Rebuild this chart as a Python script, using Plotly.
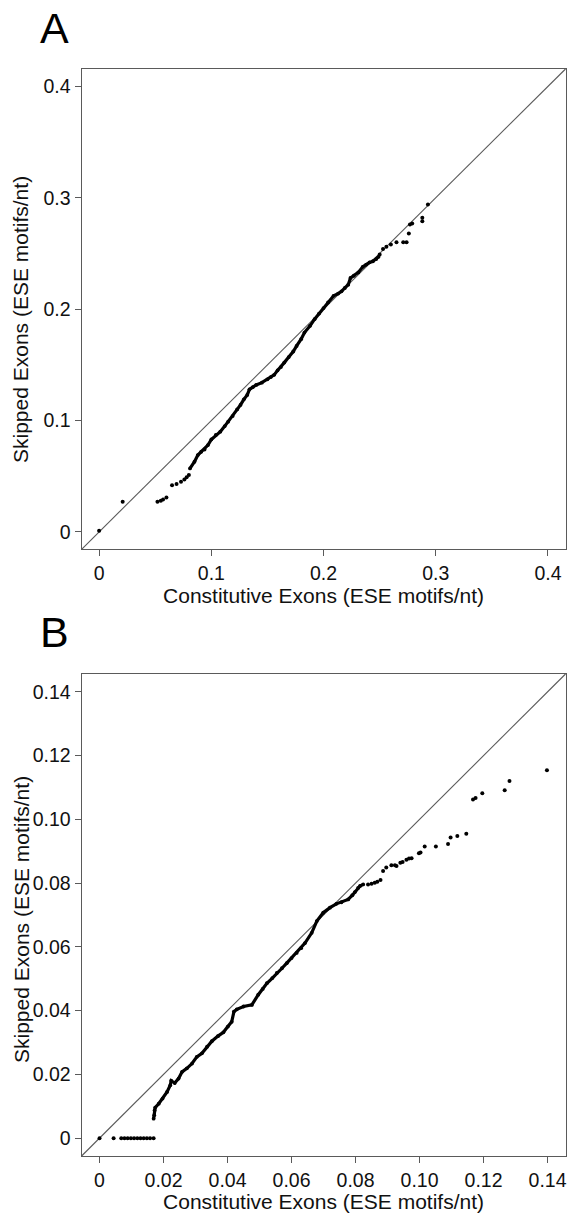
import plotly.graph_objects as go

# ---------------- Panel A data (ESE motifs/nt) ----------------
a_const_dense = [0.081, 0.085, 0.088, 0.091, 0.094, 0.097, 0.100, 0.104, 0.108, 0.112, 0.115, 0.119,
                 0.123, 0.126, 0.129, 0.132, 0.134, 0.137, 0.140, 0.145, 0.150, 0.153, 0.156, 0.159,
                 0.162, 0.165, 0.169, 0.173, 0.176, 0.180, 0.183, 0.188, 0.192, 0.196, 0.200, 0.204,
                 0.209, 0.213, 0.216, 0.219, 0.222, 0.224, 0.227, 0.231, 0.235, 0.238, 0.241, 0.244,
                 0.247, 0.249]
a_skip_dense = [0.057, 0.063, 0.069, 0.072, 0.074, 0.078, 0.083, 0.087, 0.090, 0.095, 0.099, 0.104,
                0.110, 0.114, 0.119, 0.123, 0.128, 0.130, 0.132, 0.134, 0.137, 0.139, 0.141, 0.145,
                0.148, 0.152, 0.157, 0.162, 0.167, 0.173, 0.179, 0.185, 0.191, 0.196, 0.201, 0.206,
                0.212, 0.214, 0.216, 0.219, 0.222, 0.228, 0.230, 0.233, 0.238, 0.240, 0.242, 0.243,
                0.245, 0.247]
a_const_sparse = [0.000, 0.021, 0.052, 0.055, 0.057, 0.060, 0.065, 0.069, 0.073, 0.076, 0.078, 0.080,
                  0.250, 0.253, 0.256, 0.260, 0.265, 0.271, 0.274, 0.276, 0.277, 0.279, 0.288, 0.288,
                  0.293]
a_skip_sparse = [0.001, 0.027, 0.027, 0.028, 0.029, 0.031, 0.042, 0.043, 0.045, 0.047, 0.049, 0.051,
                 0.249, 0.254, 0.256, 0.258, 0.260, 0.260, 0.260, 0.268, 0.276, 0.277, 0.282, 0.279,
                 0.294]
a_ticks = [0, 0.1, 0.2, 0.3, 0.4]
a_ticktext = ["0", "0.1", "0.2", "0.3", "0.4"]
a_range = [-0.0156, 0.4156]

# ---------------- Panel B data (ESE motifs/nt) ----------------
b_const_dense = [0.0169, 0.0171, 0.0172, 0.0174, 0.0185, 0.0197, 0.0211, 0.0221, 0.0224, 0.0235,
                 0.0247, 0.0258, 0.0273, 0.0289, 0.0304, 0.0320, 0.0336, 0.0351, 0.0370, 0.0387,
                 0.0401, 0.0413, 0.0420, 0.0429, 0.0450, 0.0476, 0.0496, 0.0510, 0.0523, 0.0540,
                 0.0554, 0.0570, 0.0585, 0.0600, 0.0616, 0.0630, 0.0642, 0.0663, 0.0679, 0.0699,
                 0.0720, 0.0740, 0.0756, 0.0777, 0.0790, 0.0798, 0.0808, 0.0814, 0.0824]
b_skip_dense = [0.0061, 0.0072, 0.0087, 0.0096, 0.0108, 0.0124, 0.0145, 0.0166, 0.0180, 0.0173,
                0.0187, 0.0208, 0.0219, 0.0234, 0.0255, 0.0266, 0.0287, 0.0304, 0.0320, 0.0332,
                0.0350, 0.0365, 0.0397, 0.0404, 0.0413, 0.0418, 0.0450, 0.0468, 0.0486, 0.0502,
                0.0518, 0.0533, 0.0549, 0.0565, 0.0581, 0.0596, 0.0612, 0.0644, 0.0681, 0.0707,
                0.0723, 0.0735, 0.0740, 0.0749, 0.0762, 0.0772, 0.0785, 0.0791, 0.0796]
b_const_sparse = [0.0000, 0.0044, 0.0068, 0.0078, 0.0088, 0.0098, 0.0108, 0.0118, 0.0128, 0.0138,
                  0.0148, 0.0158, 0.0169,
                  0.0839, 0.0850, 0.0860, 0.0868, 0.0878, 0.0886, 0.0896, 0.0912, 0.0923, 0.0928,
                  0.0940, 0.0947, 0.0959, 0.0967, 0.0975, 0.0998, 0.1003, 0.1016, 0.1051, 0.1089,
                  0.1097, 0.1118, 0.1146, 0.1167, 0.1175, 0.1196, 0.1266, 0.1281, 0.1398]
b_skip_sparse = [0.0000, 0.0000, 0.0000, 0.0000, 0.0000, 0.0000, 0.0000, 0.0000, 0.0000, 0.0000,
                 0.0000, 0.0000, 0.0000,
                 0.0796, 0.0798, 0.0801, 0.0804, 0.0810, 0.0838, 0.0849, 0.0856, 0.0856, 0.0854,
                 0.0864, 0.0866, 0.0873, 0.0877, 0.0878, 0.0894, 0.0896, 0.0915, 0.0915, 0.0923,
                 0.0943, 0.0948, 0.0955, 0.1062, 0.1067, 0.1082, 0.1091, 0.1120, 0.1154]
b_ticks = [0, 0.02, 0.04, 0.06, 0.08, 0.10, 0.12, 0.14]
b_ticktext = ["0", "0.02", "0.04", "0.06", "0.08", "0.10", "0.12", "0.14"]
b_range = [-0.0056, 0.1456]

x_title = "Constitutive Exons (ESE motifs/nt)"
y_title = "Skipped Exons (ESE motifs/nt)"
panel_labels = ["A", "B"]

FONT = "Liberation Sans, Arial, sans-serif"
FRAME = "#5a5a5a"

fig = go.Figure()

def add_panel(xa, ya, cd, sd, cs, ss):
    fig.add_trace(go.Scatter(x=cd, y=sd, xaxis=xa, yaxis=ya, mode="lines+markers",
                             line=dict(color="black", width=3.2),
                             marker=dict(color="black", size=3.8),
                             showlegend=False, hoverinfo="x+y"))
    fig.add_trace(go.Scatter(x=cs, y=ss, xaxis=xa, yaxis=ya, mode="markers",
                             marker=dict(color="black", size=4),
                             showlegend=False, hoverinfo="x+y"))

add_panel("x", "y", a_const_dense, a_skip_dense, a_const_sparse, a_skip_sparse)
add_panel("x2", "y2", b_const_dense, b_skip_dense, b_const_sparse, b_skip_sparse)

H = 1214.0
W = 571.0
xdom = [81.6 / W, 565.5 / W]
ydomA = [1 - 549.3 / H, 1 - 69.0 / H]
ydomB = [1 - 1156.0 / H, 1 - 674.0 / H]

def axis(dom, rng, tv, tt, title, anchor, standoff):
    d = dict(domain=dom, range=rng, tickvals=tv, ticktext=tt, anchor=anchor,
             automargin=False,
             showgrid=False, zeroline=False, showline=True, mirror=True,
             linecolor=FRAME, linewidth=1.2, ticks="outside", ticklen=6,
             tickwidth=1.2, tickcolor=FRAME,
             tickfont=dict(family=FONT, size=19.5, color="#111111"))
    if title:
        d["title"] = dict(text=title, font=dict(family=FONT, size=21, color="#111111"),
                          standoff=standoff)
    return d

fig.update_layout(
    width=571, height=1214,
    margin=dict(l=0, r=0, t=0, b=0, autoexpand=False),
    paper_bgcolor="white", plot_bgcolor="white",
    xaxis=axis(xdom, a_range, a_ticks, a_ticktext, x_title, "y", 2),
    yaxis=axis(ydomA, a_range, a_ticks, a_ticktext, None, "x", 0),
    xaxis2=axis(xdom, b_range, b_ticks, b_ticktext, x_title, "y2", 2),
    yaxis2=axis(ydomB, b_range, b_ticks, b_ticktext, None, "x2", 0),
)

# identity (y = x) reference lines, corner to corner of each plot area
for xr, yr in [("x domain", "y domain"), ("x2 domain", "y2 domain")]:
    fig.add_shape(type="line", xref=xr, yref=yr, x0=0, y0=0, x1=1, y1=1,
                  line=dict(color=FRAME, width=1.1), layer="below")

# y-axis titles (placed as rotated text beside each panel)
for ycen in [320.0, 920.0]:
    fig.add_annotation(text=y_title, xref="paper", yref="paper", x=21 / W, y=1 - ycen / H,
                       xanchor="center", yanchor="middle", textangle=-90, showarrow=False,
                       font=dict(family=FONT, size=21, color="#111111"))

for lab, ycen in zip(panel_labels, [27.5, 632.0]):
    fig.add_annotation(text=lab, xref="paper", yref="paper", x=38 / W, y=1 - ycen / H,
                       xanchor="left", yanchor="middle", showarrow=False,
                       font=dict(family=FONT, size=43, color="black"))

fig.write_html("out.html",
               config={"displayModeBar": False},
               post_script="document.body.style.margin='0px';"
                           "document.body.style.overflow='hidden';")
